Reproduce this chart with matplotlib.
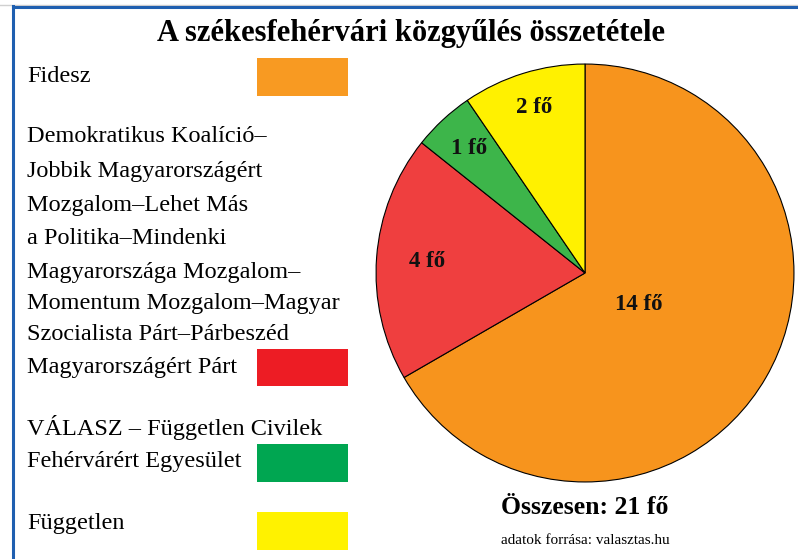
import matplotlib
matplotlib.use("Agg")
import matplotlib.pyplot as plt
import numpy as np
from matplotlib.patches import Rectangle
from matplotlib.lines import Line2D

title = "A székesfehérvári közgyűlés összetétele"
parties = ["Fidesz",
           "Demokratikus Koalíció–\nJobbik Magyarországért\nMozgalom–Lehet Más\na Politika–Mindenki\nMagyarországa Mozgalom–\nMomentum Mozgalom–Magyar\nSzocialista Párt–Párbeszéd\nMagyarországért Párt",
           "VÁLASZ – Független Civilek\nFehérvárért Egyesület",
           "Független"]
seats = [14, 4, 1, 2]
pie_labels = ["14 fő", "4 fő", "1 fő", "2 fő"]
total_label = "Összesen: 21 fő"
source = "adatok forrása: valasztas.hu"

pie_colors = ["#F7941D", "#EF3F3F", "#3DB54A", "#FFF100"]
box_colors = ["#F89A22", "#ED1C24", "#00A651", "#FFF200"]
label_dist = [0.30, 0.76, 0.815, 0.827]

W, H = 798, 559
plt.rcParams['font.family'] = ['Liberation Serif', 'DejaVu Serif']
fig = plt.figure(figsize=(W/100, H/100), dpi=100)

def fx(x): return x / W
def fy(y): return 1 - y / H

# frame lines (top and left)
fig.add_artist(Line2D([fx(0), fx(W)], [fy(4.5), fy(4.5)], color="#d0d0d0", lw=1.0))
fig.add_artist(Line2D([fx(12.5), fx(W)], [fy(6.5), fy(6.5)], color="#1F5FB0", lw=2.2))
fig.add_artist(Line2D([fx(13), fx(13)], [fy(5.5), fy(H)], color="#1F5FB0", lw=2.2))

# pie
cx, cy, r = 585, 273, 210
ax = fig.add_axes([fx(cx - r), fy(cy + r), 2*r/W, 2*r/H])
wedges, _ = ax.pie(seats, colors=pie_colors, startangle=90, counterclock=False,
                   wedgeprops=dict(edgecolor="black", linewidth=0.8))
for w, lab, d in zip(wedges, pie_labels, label_dist):
    ang = np.deg2rad((w.theta1 + w.theta2) / 2)
    ax.text(d*np.cos(ang), d*np.sin(ang), lab, ha="center", va="center",
            fontsize=16.5, fontweight="bold", color="#111")
ax.set_xlim(-1.005, 1.005)
ax.set_ylim(-1.005, 1.005)
ax.set_aspect("equal")
ax.axis("off")

# title
fig.text(fx(411), fy(33), title, ha="center", va="center", fontsize=22, fontweight="bold")

# legend text
fs = 17.5
fig.text(fx(27), fy(77), parties[0], ha="left", va="center", fontsize=fs)
dk_lines = parties[1].split("\n")
dk_y = [137, 171, 205, 239, 272, 304, 334, 367]
for line, y in zip(dk_lines, dk_y):
    fig.text(fx(27), fy(y), line, ha="left", va="center", fontsize=fs)
val_lines = parties[2].split("\n")
for line, y in zip(val_lines, [428, 461]):
    fig.text(fx(27), fy(y), line, ha="left", va="center", fontsize=fs)
fig.text(fx(27), fy(524), parties[3], ha="left", va="center", fontsize=fs)

# legend boxes
box_y = [(58, 96), (349, 386), (444, 482), (512, 550)]
for (y0, y1), c in zip(box_y, box_colors):
    fig.add_artist(Rectangle((fx(257), fy(y1)), fx(348) - fx(257), fy(y0) - fy(y1),
                             facecolor=c, edgecolor="none", transform=fig.transFigure))

fig.text(fx(585), fy(508), total_label, ha="center", va="center", fontsize=18.5, fontweight="bold")
fig.text(fx(585), fy(541), source, ha="center", va="center", fontsize=11)

fig.savefig("out.png", dpi=100)
